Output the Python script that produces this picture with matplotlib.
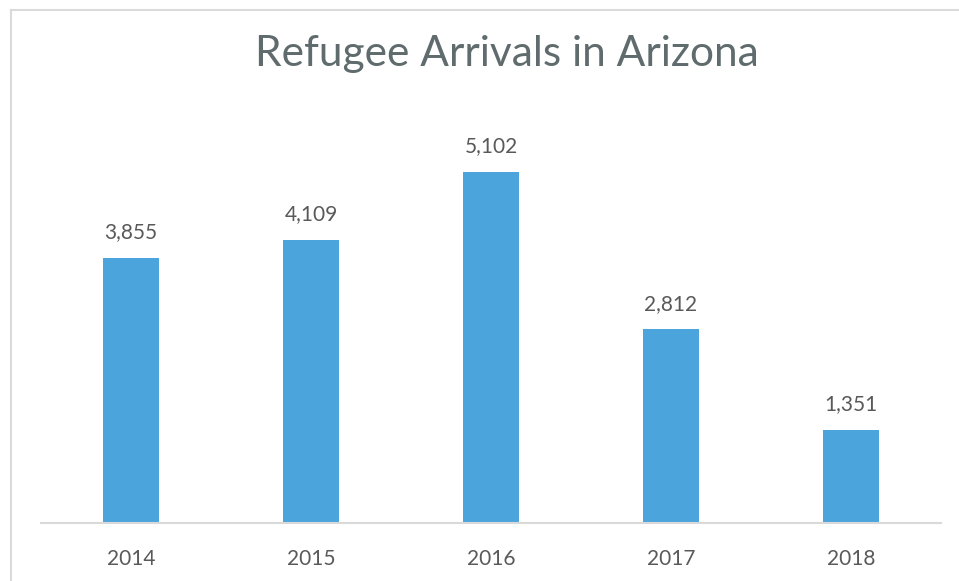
import matplotlib.pyplot as plt
from matplotlib.lines import Line2D

# Refugee arrivals in Arizona by fiscal year
years = ['2014', '2015', '2016', '2017', '2018']
arrivals = [3855, 4109, 5102, 2812, 1351]

W, H = 959, 581
fig = plt.figure(figsize=(W / 100, H / 100), dpi=100)
plt.rcParams['font.family'] = ['Lato', 'DejaVu Sans']

# frame of the chart area (top and left edges visible)
border = '#d9dadc'
fig.add_artist(Line2D([11 / W, 958 / W], [1 - 10 / H, 1 - 10 / H], color=border, lw=1.5))
fig.add_artist(Line2D([11 / W, 11 / W], [0, 1 - 10 / H], color=border, lw=1.5))

ax = fig.add_axes([41 / W, 58 / H, 900 / W, 413 / H])
x = range(len(years))
bars = ax.bar(x, arrivals, width=0.31, color='#4ba5dc')

for xi, v in zip(x, arrivals):
    ax.text(xi, v + 230, f'{v:,}', ha='center', va='bottom', fontsize=15, color='#595959')

ax.set_xlim(-0.5, 4.5)
ax.set_ylim(0, 6000)
ax.set_xticks(list(x))
ax.set_xticklabels(years, fontsize=15, color='#595959')
ax.tick_params(axis='x', length=0, pad=19)
ax.set_yticks([])
for side in ['top', 'right', 'left']:
    ax.spines[side].set_visible(False)
ax.spines['bottom'].set_color('#d9d9d9')
ax.spines['bottom'].set_linewidth(1.5)

fig.text(507 / W, 1 - 54 / H, 'Refugee Arrivals in Arizona', ha='center', va='center',
         fontsize=30.5, color='#5f6b6d')

plt.savefig('out.png', dpi=100)
